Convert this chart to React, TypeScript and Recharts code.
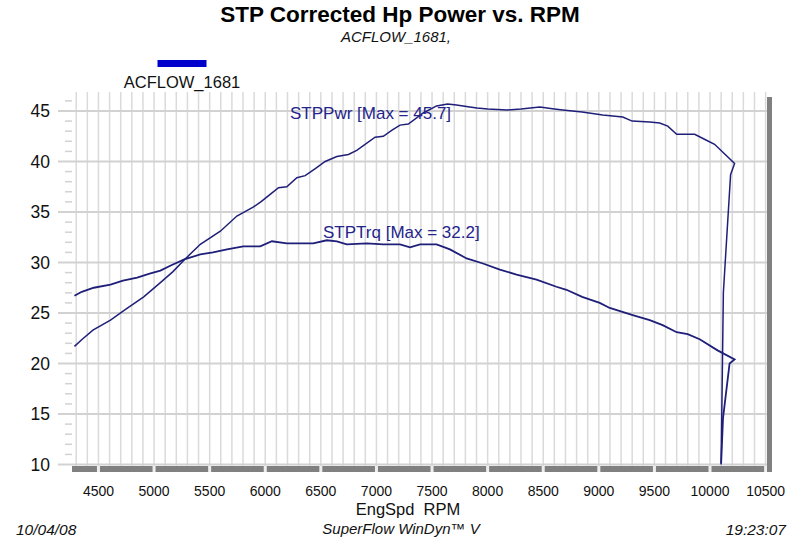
import React from "react";
import { LineChart, Line, XAxis, YAxis, CartesianGrid } from "recharts";

const FONT = "'Liberation Sans', Arial, sans-serif";
const LINE_COLOR = "#1f1f7a";
const TEXT_BLUE = "#24248a";

// STPPwr (hp)
const powerRpm = [
  4284, 4354, 4450, 4608, 4750, 4907, 5057, 5170, 5275, 5416, 5596, 5745, 5895, 5960,
  6050, 6119, 6194, 6284, 6359, 6450, 6539, 6644, 6748, 6823, 6988, 7062, 7140, 7212,
  7287, 7421, 7541, 7640, 7720, 7839, 7904, 8000, 8173, 8300, 8470, 8600, 8676, 8850,
  9035, 9215, 9300, 9458, 9547, 9620, 9700, 9862, 9950, 10041, 10221, 10185, 10120, 10100,
];
const powerHp = [
  21.7, 22.4, 23.3, 24.3, 25.4, 26.6, 28.0, 29.1, 30.3, 31.8, 33.1, 34.6, 35.5, 36.0,
  36.8, 37.4, 37.5, 38.4, 38.6, 39.3, 40.0, 40.5, 40.7, 41.1, 42.4, 42.5, 43.1, 43.6,
  43.7, 44.8, 45.5, 45.7, 45.6, 45.4, 45.3, 45.2, 45.1, 45.2, 45.4, 45.2, 45.1, 44.9,
  44.6, 44.4, 44.0, 43.9, 43.8, 43.5, 42.7, 42.7, 42.2, 41.7, 39.8, 38.7, 27.0, 10.0,
];

// STPTrq
const torqueRpm = [
  4284, 4350, 4458, 4608, 4720, 4848, 4960, 5057, 5150, 5272, 5416, 5530, 5656, 5802,
  5955, 6060, 6194, 6314, 6431, 6554, 6644, 6733, 6913, 7061, 7212, 7302, 7392, 7541,
  7661, 7811, 7958, 8110, 8260, 8440, 8619, 8709, 8850, 9008, 9098, 9305, 9458, 9574,
  9700, 9799, 9907, 10068, 10221, 10176, 10117, 10100,
];
const torqueVal = [
  26.7, 27.1, 27.5, 27.8, 28.2, 28.5, 28.9, 29.2, 29.7, 30.3, 30.8, 31.0, 31.3, 31.6,
  31.6, 32.1, 31.9, 31.9, 31.9, 32.2, 32.1, 31.8, 31.9, 31.8, 31.8, 31.5, 31.8, 31.8,
  31.3, 30.4, 29.9, 29.3, 28.8, 28.3, 27.6, 27.3, 26.6, 26.0, 25.5, 24.8, 24.3, 23.8,
  23.1, 22.9, 22.4, 21.3, 20.4, 20.0, 14.6, 10.1,
];

const xTicks = [4500, 5000, 5500, 6000, 6500, 7000, 7500, 8000, 8500, 9000, 9500, 10000, 10500];
const yMajor = [10, 15, 20, 25, 30, 35, 40, 45];
const yTicks = Array.from({ length: 37 }, (_, i) => 10 + i);
const gridRpm = Array.from({ length: 63 }, (_, i) => 4300 + i * 100);

const powerData = powerRpm.map((rpm, i) => ({ rpm, v: powerHp[i] }));
const torqueData = torqueRpm.map((rpm, i) => ({ rpm, v: torqueVal[i] }));

const XTick = (props: any) => {
  const { x, y, payload } = props;
  return (
    <g>
      <rect x={x - 1.5} y={y - 3} width={3} height={6} fill="#eeeeee" />
      <text x={x} y={y + 27} textAnchor="middle" fontSize={14} fill="#111" fontFamily={FONT}>
        {payload.value}
      </text>
    </g>
  );
};

const YTick = (props: any) => {
  const { x, y, payload } = props;
  const v = Math.round(payload.value);
  const major = v % 5 === 0;
  return (
    <g>
      <line x1={x - (major ? 14 : 7)} x2={x} y1={y} y2={y} stroke="#d2d2d2" strokeWidth={major ? 2 : 1.5} />
      {major && (
        <text x={x - 22} y={y} dy="0.36em" textAnchor="end" fontSize={17.5} fill="#111" fontFamily={FONT}>
          {v}
        </text>
      )}
    </g>
  );
};

export default function App() {
  return (
    <div style={{ position: "absolute", left: 0, top: 0, width: 800, height: 540, background: "#fff" }}>
      <LineChart width={800} height={540} margin={{ top: 92, right: 30.5, bottom: 31, left: 12 }}>
        <CartesianGrid horizontal={false} verticalValues={gridRpm} stroke="#dadada" strokeWidth={1.5} />
        <CartesianGrid vertical={false} horizontalValues={yMajor} stroke="#d2d2d2" strokeWidth={2} />
        <XAxis
          type="number"
          dataKey="rpm"
          domain={[4262, 10535]}
          ticks={xTicks}
          interval={0}
          allowDataOverflow
          height={40}
          tickSize={0}
          tickMargin={0}
          tickLine={false}
          axisLine={{ stroke: "#808080", strokeWidth: 6 }}
          tick={<XTick />}
        />
        <YAxis
          type="number"
          domain={[9.555, 46.88]}
          ticks={yTicks}
          interval={0}
          allowDataOverflow
          width={60}
          tickSize={0}
          tickMargin={0}
          tickLine={false}
          axisLine={false}
          tick={<YTick />}
        />
        <Line data={powerData} dataKey="v" type="linear" stroke={LINE_COLOR} strokeWidth={1.5} dot={false} isAnimationActive={false} />
        <Line data={torqueData} dataKey="v" type="linear" stroke={LINE_COLOR} strokeWidth={1.8} dot={false} isAnimationActive={false} />
      </LineChart>
      <svg width={800} height={540} style={{ position: "absolute", left: 0, top: 0, pointerEvents: "none" }}>
        <text x={400} y={22} textAnchor="middle" fontSize={22.5} fontWeight="bold" fontFamily={FONT} fill="#000">
          STP Corrected Hp Power vs. RPM
        </text>
        <text x={396} y={42} textAnchor="middle" fontSize={15} fontStyle="italic" fontFamily={FONT} fill="#111">
          ACFLOW_1681,
        </text>
        <rect x={157.5} y={60} width={49} height={7} fill="#0000cc" />
        <text x={182} y={88} textAnchor="middle" fontSize={16.5} fontFamily={FONT} fill="#111">
          ACFLOW_1681
        </text>
        <text x={290} y={119} fontSize={17} fontFamily={FONT} fill={TEXT_BLUE}>
          STPPwr [Max = 45.7]
        </text>
        <text x={323} y={238} fontSize={17} fontFamily={FONT} fill={TEXT_BLUE}>
          STPTrq [Max = 32.2]
        </text>
        <rect x={767} y={97} width={5} height={375} fill="#808080" />
        <text x={408} y={515} textAnchor="middle" fontSize={16.5} fontFamily={FONT} fill="#111" xmlSpace="preserve">
          EngSpd  RPM
        </text>
        <text x={401} y={534} textAnchor="middle" fontSize={15} fontStyle="italic" fontFamily={FONT} fill="#111">
          SuperFlow WinDyn™ V
        </text>
        <text x={16} y={535} fontSize={15.5} fontStyle="italic" fontFamily={FONT} fill="#111">
          10/04/08
        </text>
        <text x={786} y={535} textAnchor="end" fontSize={15.5} fontStyle="italic" fontFamily={FONT} fill="#111">
          19:23:07
        </text>
      </svg>
    </div>
  );
}
